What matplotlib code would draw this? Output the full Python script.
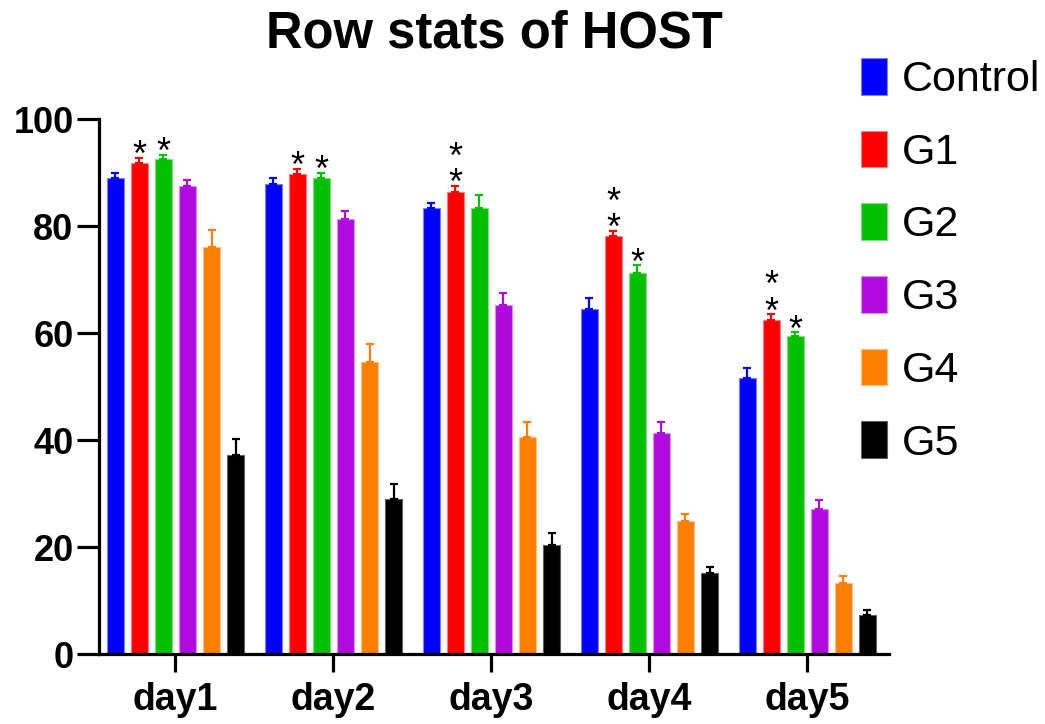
import matplotlib
matplotlib.use("Agg")
import matplotlib.pyplot as plt
from matplotlib.patches import Patch
import numpy as np

plt.rcParams['font.family'] = ['Liberation Sans', 'DejaVu Sans']

days = ["day1", "day2", "day3", "day4", "day5"]
groups = ["Control", "G1", "G2", "G3", "G4", "G5"]
colors = ["#0000FF", "#FF0000", "#00C000", "#B00ADF", "#FF8000", "#000000"]
edge_colors = ["#8080FF", "#FF8080", "#80E080", "#D890F0", "#FFC080", "#606060"]

means = {
    "Control": [88.9, 87.8, 83.4, 64.5, 51.6],
    "G1":      [91.7, 89.7, 86.4, 78.1, 62.5],
    "G2":      [92.5, 88.9, 83.3, 71.2, 59.5],
    "G3":      [87.5, 81.4, 65.2, 41.4, 27.1],
    "G4":      [76.1, 54.7, 40.7, 24.9, 13.3],
    "G5":      [37.3, 29.0, 20.4, 15.3, 7.3],
}
errors = {
    "Control": [1.0, 1.1, 1.0, 2.0, 1.9],
    "G1":      [1.0, 1.0, 1.1, 1.0, 1.0],
    "G2":      [0.8, 1.0, 2.6, 1.5, 0.7],
    "G3":      [1.1, 1.4, 2.4, 2.0, 1.7],
    "G4":      [3.2, 3.2, 2.8, 1.3, 1.3],
    "G5":      [3.0, 2.8, 2.2, 1.0, 1.1],
}
# significance stars: (day index, group name, number of stars)
stars = [(0, "G1", 1), (0, "G2", 1), (1, "G1", 1), (1, "G2", 1),
         (2, "G1", 2), (3, "G1", 2), (3, "G2", 1), (4, "G1", 2), (4, "G2", 1)]

fig = plt.figure(figsize=(10.45, 7.24), dpi=100)
ax = fig.add_axes([0.0943, 0.096, 0.8507 - 0.0943, 0.8356 - 0.096])

x = np.arange(len(days))
step = 0.152
width = 0.105
for k, g in enumerate(groups):
    pos = x + (k - 2.5) * step
    ax.bar(pos, means[g], width=width, color=colors[k], edgecolor=edge_colors[k],
           linewidth=0.8, zorder=2)
    ax.errorbar(pos, means[g], yerr=[np.zeros(len(days)), errors[g]], fmt='none',
                ecolor=colors[k], elinewidth=1.6, capsize=3.2, capthick=1.6, zorder=3)

gidx = {g: i for i, g in enumerate(groups)}
for d, g, n in stars:
    k = gidx[g]
    xp = x[d] + (k - 2.5) * step
    top = means[g][d] + errors[g][d]
    ax.annotate("\n".join(["*"] * n), xy=(xp, top),
                xytext=(0, -6), textcoords="offset points",
                ha="center", va="baseline", multialignment="center",
                fontsize=26, linespacing=0.686, color="black", zorder=4)

ax.set_xlim(-0.487, 4.516)
ax.set_ylim(0, 100)
ax.set_yticks([0, 20, 40, 60, 80, 100])
ax.set_xticks(x)
ax.set_xticklabels(days)
for sp in ["top", "right"]:
    ax.spines[sp].set_visible(False)
for sp in ["left", "bottom"]:
    ax.spines[sp].set_linewidth(2.3)
ax.tick_params(axis="y", length=16, width=2.3, pad=2, labelsize=26)
ax.tick_params(axis="x", length=13, width=2.3, pad=7, labelsize=27)
for lab in ax.get_xticklabels() + ax.get_yticklabels():
    lab.set_fontweight("bold")

fig.text(494 / 1045, 1 - 48 / 724, "Row stats of HOST", ha="center", va="baseline",
         fontsize=36.5, fontweight="bold")

handles = [Patch(facecolor=colors[k], edgecolor=edge_colors[k], linewidth=0.8) for k in range(len(groups))]
fig.legend(handles, groups, loc="upper left", bbox_to_anchor=(861 / 1045, 1 - 58 / 724),
           frameon=False, fontsize=31, handlelength=0.6, handleheight=0.93,
           handletextpad=0.35, labelspacing=0.71, borderpad=0, borderaxespad=0)

fig.savefig("out.png", dpi=100)
